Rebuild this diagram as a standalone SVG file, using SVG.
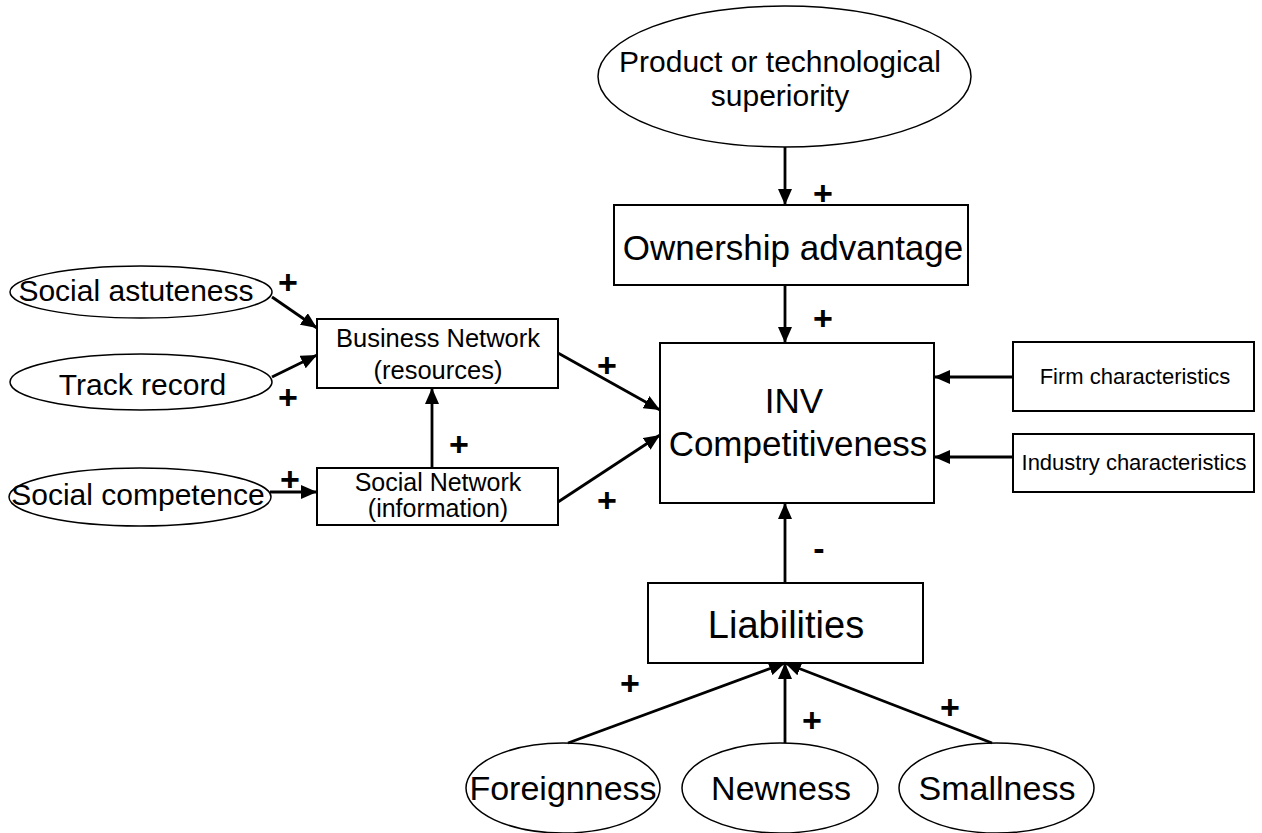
<svg xmlns="http://www.w3.org/2000/svg" width="1262" height="833" viewBox="0 0 1262 833">
<style>
.box{fill:#fff;stroke:#000;stroke-width:2}
.ell{fill:#fff;stroke:#000;stroke-width:1.5}
.t{font-family:"Liberation Sans",Arial,sans-serif;text-anchor:middle;fill:#000}
.c{stroke:#000;stroke-width:2.8;fill:none}
.s{font-family:"Liberation Sans",Arial,sans-serif;font-weight:bold;font-size:34px;text-anchor:middle;fill:#000}
</style>
<defs>
<marker id="ah" markerUnits="userSpaceOnUse" markerWidth="16" markerHeight="14" refX="16" refY="7" orient="auto">
<path d="M0,0 L16,7 L0,14 z" fill="#000"/>
</marker>
</defs>
<rect width="1262" height="833" fill="#fff"/>
<g id="product">
<ellipse class="ell" cx="784.5" cy="76.5" rx="186.5" ry="70.5"/>
<text class="t" x="780" y="72" font-size="30">Product or technological</text>
<text class="t" x="780" y="106" font-size="30">superiority</text>
</g>
<g id="ownership">
<rect class="box" x="614" y="205" width="354" height="80"/>
<text class="t" x="793" y="260" font-size="35">Ownership advantage</text>
</g>
<g id="social-astuteness">
<ellipse class="ell" cx="141" cy="292" rx="131" ry="26"/>
<text class="t" x="136" y="301" font-size="30">Social astuteness</text>
</g>
<g id="track-record">
<ellipse class="ell" cx="141" cy="382" rx="131" ry="28"/>
<text class="t" x="142.5" y="395" font-size="30">Track record</text>
</g>
<g id="social-competence">
<ellipse class="ell" cx="140" cy="497" rx="131" ry="29"/>
<text class="t" x="138" y="505" font-size="30">Social competence</text>
</g>
<g id="business-network">
<rect class="box" x="317" y="319" width="241" height="69"/>
<text class="t" x="438" y="347" font-size="25.5">Business Network</text>
<text class="t" x="438" y="379" font-size="25.5">(resources)</text>
</g>
<g id="social-network">
<rect class="box" x="317" y="468" width="241" height="57"/>
<text class="t" x="438" y="491" font-size="25">Social Network</text>
<text class="t" x="438" y="517" font-size="25">(information)</text>
</g>
<g id="inv">
<rect class="box" x="660" y="343" width="274" height="160"/>
<text class="t" x="794" y="413" font-size="35">INV</text>
<text class="t" x="798" y="456" font-size="35">Competitiveness</text>
</g>
<g id="firm">
<rect class="box" x="1013" y="342" width="241" height="69"/>
<text class="t" x="1135" y="384" font-size="22">Firm characteristics</text>
</g>
<g id="industry">
<rect class="box" x="1013" y="434" width="241" height="58"/>
<text class="t" x="1134" y="470" font-size="22">Industry characteristics</text>
</g>
<g id="liabilities">
<rect class="box" x="648" y="583" width="275" height="80"/>
<text class="t" x="786" y="638" font-size="38">Liabilities</text>
</g>
<g id="foreignness">
<ellipse class="ell" cx="563" cy="788" rx="97" ry="45"/>
<text class="t" x="563" y="800" font-size="34">Foreignness</text>
</g>
<g id="newness">
<ellipse class="ell" cx="780" cy="788" rx="98" ry="45"/>
<text class="t" x="781" y="800" font-size="34">Newness</text>
</g>
<g id="smallness">
<ellipse class="ell" cx="996.5" cy="788" rx="97.5" ry="45"/>
<text class="t" x="997" y="800" font-size="34">Smallness</text>
</g>
<g id="connectors">
<path class="c" marker-end="url(#ah)" d="M785,147 L785,205"/>
<path class="c" marker-end="url(#ah)" d="M785,285 L785,343"/>
<path class="c" marker-end="url(#ah)" d="M272,297 L317,328"/>
<path class="c" marker-end="url(#ah)" d="M272,377 L317,355"/>
<path class="c" marker-end="url(#ah)" d="M270,492 L317,492"/>
<path class="c" marker-end="url(#ah)" d="M432,468 L432,388"/>
<path class="c" marker-end="url(#ah)" d="M558,353 L660,410"/>
<path class="c" marker-end="url(#ah)" d="M558,502 L660,435"/>
<path class="c" marker-end="url(#ah)" d="M1013,377 L934,377"/>
<path class="c" marker-end="url(#ah)" d="M1013,457 L934,457"/>
<path class="c" marker-end="url(#ah)" d="M785,583 L785,503"/>
<path class="c" marker-end="url(#ah)" d="M568,743 L785,663"/>
<path class="c" marker-end="url(#ah)" d="M785,743 L785,663"/>
<path class="c" marker-end="url(#ah)" d="M992,743 L785,663"/>
<text class="s" x="823" y="205">+</text>
<text class="s" x="823" y="330">+</text>
<text class="s" x="288" y="294">+</text>
<text class="s" x="288" y="409">+</text>
<text class="s" x="290" y="491">+</text>
<text class="s" x="459" y="456">+</text>
<text class="s" x="607" y="377">+</text>
<text class="s" x="607" y="512">+</text>
<text class="s" x="819" y="560">-</text>
<text class="s" x="630" y="695">+</text>
<text class="s" x="812" y="732">+</text>
<text class="s" x="950" y="719">+</text>
</g>
</svg>
